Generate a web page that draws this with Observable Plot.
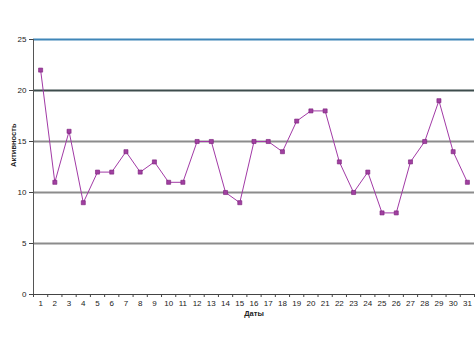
<!DOCTYPE html>
<html><head><meta charset="utf-8">
<script src="https://cdn.jsdelivr.net/npm/d3@7"></script>
<script src="https://cdn.jsdelivr.net/npm/@observablehq/plot@0.6"></script>
<style>body{margin:0;background:#fff}</style>
</head><body><div id="chart"></div>
<script>
const days = [1,2,3,4,5,6,7,8,9,10,11,12,13,14,15,16,17,18,19,20,21,22,23,24,25,26,27,28,29,30,31];
const activity = [22,11,16,9,12,12,14,12,13,11,11,15,15,10,9,15,15,14,17,18,18,13,10,12,8,8,13,15,19,14,11];
const yTicks = [0,5,10,15,20,25];
const xTitle = "Даты";
const yTitle = "Активность";

const data = days.map((d,i)=>({day:d, value:activity[i]}));
const gridColor = v => v===25 ? "#3f86b8" : v===20 ? "#3d4d4d" : "#8c8c8c";
const bounds = d3.range(days[0]-0.5, days[days.length-1]+1, 1);

const chart = Plot.plot({
  width: 475, height: 356,
  marginLeft: 33, marginRight: 1, marginTop: 39, marginBottom: 62,
  style: {fontFamily: "'Liberation Sans', Arial, sans-serif", fontSize: "8px", color: "#222"},
  x: {type: "linear", domain: [days[0]-0.5, days[days.length-1]+0.5]},
  y: {domain: [yTicks[0], yTicks[yTicks.length-1]]},
  marks: [
    Plot.ruleY(yTicks.filter(v=>v>0), {y: d=>d, stroke: gridColor, strokeWidth: 2}),
    Plot.ruleY([0], {stroke: "#444", strokeWidth: 1}),
    Plot.ruleX([days[0]-0.5], {stroke: "#555", strokeWidth: 1}),
    Plot.axisY({ticks: yTicks, tickSize: 4, tickPadding: 3, label: null, stroke: "#444"}),
    Plot.axisX({ticks: bounds, tickFormat: () => "", tickSize: 3, label: null, stroke: "#444"}),
    Plot.axisX({ticks: days, tickSize: 0, tickPadding: 6, label: null}),
    Plot.line(data, {x: "day", y: "value", stroke: "#a23aa6", strokeWidth: 1}),
    Plot.dot(data, {x: "day", y: "value", symbol: "square", r: 2.3, fill: "#a040a0", stroke: "#7a1f7a", strokeWidth: 0.6}),
    Plot.text([yTitle], {frameAnchor: "left", dx: -20, rotate: -90, text: d=>d, fontWeight: "bold", fontSize: 7.5, fill: "#222"}),
    Plot.text([xTitle], {frameAnchor: "bottom", dy: 21, text: d=>d, fontWeight: "bold", fontSize: 7.5, fill: "#222"})
  ]
});
document.getElementById("chart").appendChild(chart);
</script>
</body></html>
